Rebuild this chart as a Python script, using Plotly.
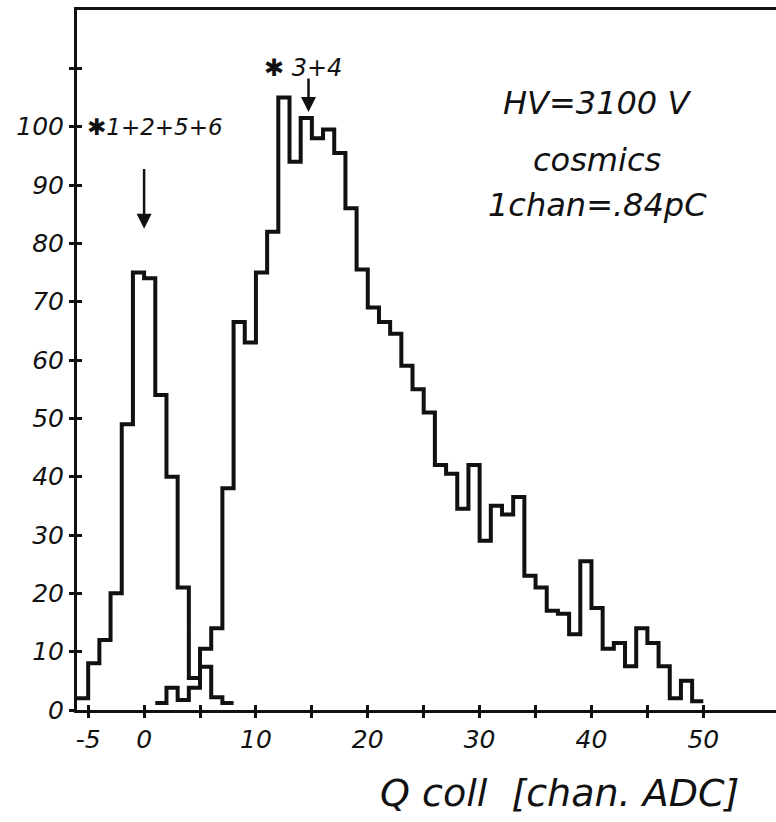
import plotly.graph_objects as go

# ---------------- data ----------------
bin_width = 1
# outer (main) step histogram: channels 1+2+5+6 peak near 0, then channels 3+4 peak near 14
outer_first_edge = -6
outer_counts = [
    2, 8, 12, 20, 49, 75, 74, 54, 40, 21,          # -6 .. 3
    5.5, 10.5, 14, 38, 66.5, 63,                    # 4 .. 9
    75, 82, 105, 94, 101.5, 98, 99.5, 95.5, 86, 75.5,   # 10 .. 19
    69, 66.5, 64.5, 59, 55, 51, 42, 40.5, 34.5, 42,     # 20 .. 29
    29, 35, 33.5, 36.5, 23, 21, 17, 16.5, 13, 25.5,     # 30 .. 39
    17.5, 10.5, 11.5, 7.5, 14, 11.5, 7.5, 2, 5, 1.5,    # 40 .. 49
]
# small inner step histogram under the overlap region
inner_first_edge = 1
inner_counts = [1.2, 3.8, 1.7, 3.8, 7.4, 2.2, 1.2]

x_tick_vals = list(range(-5, 55, 5))
x_tick_text = ["-5", "0", "", "10", "", "20", "", "30", "", "40", "", "50"]
y_tick_vals = list(range(0, 120, 10))
y_tick_text = ["0", "10", "20", "30", "40", "50", "60", "70", "80", "90", "100", ""]

label_peak_a = "✱1+2+5+6"
label_peak_b = "✱ 3+4"
info_lines = ["HV=3100 V", "cosmics", "1chan=.84pC"]
x_title = "Q coll  [chan. ADC]"


def step_xy(first_edge, counts):
    edges = [first_edge + i * bin_width for i in range(len(counts) + 1)]
    ys = list(counts) + [counts[-1]]
    return edges, ys


ink = "#111111"
font_fam = "DejaVu Sans"

fig = go.Figure()

ox, oy = step_xy(outer_first_edge, outer_counts)
fig.add_trace(go.Scatter(x=ox, y=oy, mode="lines", line=dict(shape="hv", color=ink, width=4),
                         showlegend=False, hoverinfo="skip", cliponaxis=False))
ix, iy = step_xy(inner_first_edge, inner_counts)
fig.add_trace(go.Scatter(x=ix, y=iy, mode="lines", line=dict(shape="hv", color=ink, width=4),
                         showlegend=False, hoverinfo="skip", cliponaxis=False))
# invisible trace on overlay axes (used for crossing tick marks)
fig.add_trace(go.Scatter(x=[0], y=[0], xaxis="x2", yaxis="y2", mode="markers",
                         marker=dict(opacity=0), showlegend=False, hoverinfo="skip"))

xr = [-6, 56.5]
yr = [0, 120]
tickfont = dict(family=font_fam, size=25, color=ink, style="italic")

fig.update_layout(
    width=776, height=822,
    margin=dict(l=77, r=0, t=10, b=112),
    paper_bgcolor="white", plot_bgcolor="white",
    xaxis=dict(range=xr, showgrid=False, zeroline=False, showline=True, linecolor=ink,
               linewidth=3, mirror=True, ticks="outside", ticklen=5, tickwidth=2.5,
               tickcolor=ink, tickvals=x_tick_vals, ticktext=x_tick_text,
               tickfont=tickfont, ticklabelstandoff=0),
    yaxis=dict(range=yr, showgrid=False, zeroline=False, showline=True, linecolor=ink,
               linewidth=3, ticks="outside", ticklen=5, tickwidth=2.5, tickcolor=ink,
               tickvals=y_tick_vals, ticktext=y_tick_text, tickfont=tickfont,
               ticklabelstandoff=0),
    xaxis2=dict(range=xr, overlaying="x", anchor="y2", side="bottom", showgrid=False,
                zeroline=False, showline=False, ticks="inside", ticklen=5, tickwidth=2.5,
                tickcolor=ink, tickvals=x_tick_vals, showticklabels=False),
    yaxis2=dict(range=yr, overlaying="y", anchor="x2", side="left", showgrid=False,
                zeroline=False, showline=False, ticks="inside", ticklen=5, tickwidth=2.5,
                tickcolor=ink, tickvals=y_tick_vals, showticklabels=False),
)

# peak labels and arrows
fig.add_annotation(x=1.0, y=100, text=label_peak_a, showarrow=False,
                   font=dict(family=font_fam, size=23, color=ink, style="italic"))
fig.add_annotation(x=0, y=82.5, ax=0, ay=93, xref="x", yref="y", axref="x", ayref="y",
                   text="", showarrow=True, arrowhead=2, arrowsize=1.2, arrowwidth=2.5,
                   arrowcolor=ink)
fig.add_annotation(x=14.2, y=110, text=label_peak_b, showarrow=False,
                   font=dict(family=font_fam, size=24, color=ink, style="italic"))
fig.add_annotation(x=14.7, y=102.5, ax=14.7, ay=108.5, xref="x", yref="y", axref="x",
                   ayref="y", text="", showarrow=True, arrowhead=2, arrowsize=1.2,
                   arrowwidth=2.5, arrowcolor=ink)

# info block
for line, yv in zip(info_lines, [104, 94.3, 86.6]):
    fig.add_annotation(x=40.5, y=yv, text=line, showarrow=False,
                       font=dict(family=font_fam, size=32, color=ink, style="italic"))

# x-axis title
fig.add_annotation(x=0.69, y=-0.119, xref="paper", yref="paper", text=x_title,
                   xanchor="center", yanchor="middle", showarrow=False,
                   font=dict(family=font_fam, size=38, color=ink, style="italic"))

fig.write_html("out.html",
               config={"displayModeBar": False},
               post_script="document.body.style.margin='0';document.body.style.overflow='hidden';")
